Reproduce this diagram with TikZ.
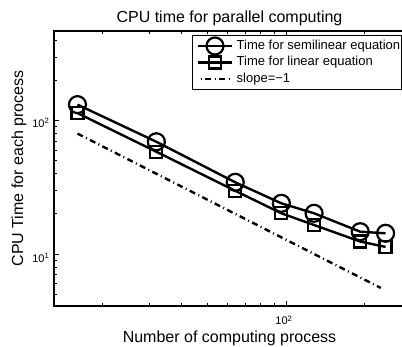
\documentclass[tikz,border=0pt]{standalone}
\usepackage{fontspec}
\setmainfont{Liberation Sans}
\usetikzlibrary{positioning}
\definecolor{plotblack}{HTML}{000000}
\tikzset{
  axisline/.style={draw=plotblack, line width=1.3pt},
  tickmark/.style={draw=plotblack, line width=0.8pt},
  dataline/.style={draw=plotblack, line width=2.4pt, line join=round},
  slopeline/.style={draw=plotblack, line width=2.4pt,
                    dash pattern=on 6pt off 3.5pt on 1pt off 3.5pt},
  circmark/.style={circle, draw=plotblack, line width=2.2pt,
                   minimum size=17pt, inner sep=0pt},
  sqmark/.style={rectangle, draw=plotblack, line width=2.2pt,
                 minimum size=12pt, inner sep=0pt},
  ticklab/.style={font=\fontsize{11}{13}\selectfont, inner sep=0pt},
  axislab/.style={font=\fontsize{16}{19}\selectfont, inner sep=0pt},
  legtext/.style={font=\fontsize{13}{15}\selectfont, anchor=west, inner sep=0pt},
  legbox/.style={draw=plotblack, line width=1.3pt, fill=white, inner sep=0pt},
}
\begin{document}
\begin{tikzpicture}[x=1pt, y=1pt]
  \useasboundingbox (0,0) rectangle (402,347);
  \clip (0,0) rectangle (402,347);

  % Axes frame (right edge runs off the page)
  \draw[axisline] (54,41) rectangle (405,316);

  % Titles and labels
  \node[axislab, anchor=base] (title) at (229.5,324) {CPU time for parallel computing};
  \node[axislab, anchor=base] (xlab) at (229.5,4.5) {Number of computing process};
  \node[axislab, anchor=base, rotate=90] (ylab) at (23,178.5) {CPU Time for each process};

  % Tick labels
  \node[ticklab, anchor=base] (xtick2) at (284,22) {10\textsuperscript{2}};
  \node[ticklab, anchor=base east] (ytick2) at (49.5,219.7) {10\textsuperscript{2}};
  \node[ticklab, anchor=base east] (ytick1) at (49.5,84.7) {10\textsuperscript{1}};

  % Log-log data frame
  \begin{scope}[shift={(-238pt,-40.3pt)}, x=262pt, y=133.3pt]
    % x ticks, bottom and top
    \foreach \v in {20,30,40,50,60,70,80,90,200}{
      \draw[tickmark] ({log10(\v)},0.61) -- ++(0,3pt);
      \draw[tickmark] ({log10(\v)},2.673) -- ++(0,-3pt);
    }
    \draw[tickmark] (2,0.61) -- ++(0,5pt);
    \draw[tickmark] (2,2.673) -- ++(0,-5pt);
    % y ticks, left
    \foreach \v in {5,6,7,8,9,20,30,40,50,60,70,80,90,200,300,400}
      \draw[tickmark] (1.1145,{log10(\v)}) -- ++(3pt,0);
    \foreach \v in {10,100}
      \draw[tickmark] (1.1145,{log10(\v)}) -- ++(5pt,0);

    % Semilinear equation (circles)
    \foreach \px/\py [count=\i] in {16/132, 32/69.5, 64/34.5, 96/24, 128/20.2, 192/14.7, 240/14.3}
      \node[circmark] (semi\i) at ({log10(\px)},{log10(\py)}) {};
    % Linear equation (squares)
    \foreach \px/\py [count=\i] in {16/114, 32/58.5, 64/29.8, 96/20.2, 128/16.5, 192/12.4, 240/11.3}
      \node[sqmark] (lin\i) at ({log10(\px)},{log10(\py)}) {};
    \draw[dataline] (semi1.center) \foreach \i in {2,...,7}{ -- (semi\i.center)};
    \draw[dataline] (lin1.center) \foreach \i in {2,...,7}{ -- (lin\i.center)};

    % Reference slope -1
    \coordinate (slopeA) at ({log10(16)},{log10(80)});
    \coordinate (slopeB) at ({log10(230)},{log10(1280/230)});
    \draw[slopeline] (slopeA) -- (slopeB);
  \end{scope}

  % Legend
  \node[legbox, minimum width=209pt, minimum height=54pt, anchor=north west] (legend) at (192,312) {};
  \coordinate (row1) at ([xshift=6pt, yshift=-11pt]legend.north west);
  \coordinate (row2) at ([xshift=6pt, yshift=-27.5pt]legend.north west);
  \coordinate (row3) at ([xshift=6pt, yshift=-44pt]legend.north west);
  \node[circmark] (legsemi) at ([xshift=17pt]row1) {};
  \node[sqmark] (leglin) at ([xshift=17pt]row2) {};
  \draw[dataline] (row1) -- ++(34pt,0);
  \draw[dataline] (row2) -- ++(34pt,0);
  \draw[slopeline, dash phase=7pt] (row3) -- ++(34pt,0);
  \node[legtext] (legt1) at ([xshift=38.5pt]row1) {Time for semilinear equation};
  \node[legtext] (legt2) at ([xshift=38.5pt]row2) {Time for linear equation};
  \node[legtext] (legt3) at ([xshift=38.5pt]row3) {slope=−1};

\end{tikzpicture}
\end{document}
